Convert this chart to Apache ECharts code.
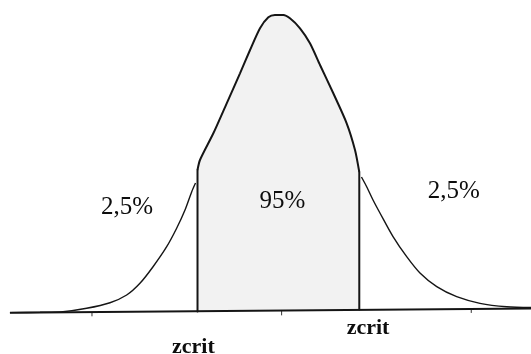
<!DOCTYPE html>
<html>
<head>
<meta charset="utf-8">
<script src="https://cdn.jsdelivr.net/npm/echarts@6/dist/echarts.min.js"></script>
<style>
  html, body { margin: 0; padding: 0; background: #ffffff; }
  #chart { width: 531px; height: 354px; }
</style>
</head>
<body>
<div id="chart"></div>
<script>
// Standard normal curve, z on the x axis, density on the y axis.
// Left tail (below -zcrit): [z, density]
const leftTail = [
  [-2.865, -0.0023], [-2.548, -0.0018], [-2.306, -0.0010], [-2.056, 0.0036],
  [-1.810, 0.0111], [-1.634, 0.0215], [-1.494, 0.0373], [-1.356, 0.0596],
  [-1.212, 0.0866], [-1.107, 0.1114], [-1.019, 0.1360], [-0.948, 0.1607],
  [-0.908, 0.1724]
];
// Right tail (above +zcrit)
const rightTail = [
  [0.842, 0.1805], [0.897, 0.1674], [0.964, 0.1495], [1.037, 0.1320],
  [1.175, 0.1001], [1.319, 0.0731], [1.459, 0.0511], [1.636, 0.0327],
  [1.846, 0.0192], [2.092, 0.0103], [2.374, 0.0057], [2.630, 0.0047]
];
// Top of the central acceptance region (95%), from -zcrit to +zcrit
const centerRegion = [
  [-0.887, 0.1899], [-0.861, 0.2034], [-0.720, 0.2394],
  [-0.579, 0.2798], [-0.439, 0.3202], [-0.333, 0.3516], [-0.228, 0.3809],
  [-0.140, 0.3957], [-0.070, 0.3988], [0.018, 0.3988], [0.088, 0.3943],
  [0.194, 0.3809], [0.299, 0.3607], [0.405, 0.3314], [0.545, 0.2933],
  [0.686, 0.2529], [0.774, 0.2169], [0.819, 0.1872]
];
// Vertical boundaries at the critical values: [z, bottom, top]
const critEdges = [
  [-0.887, -0.0007, 0.1899],
  [0.819, 0.0020, 0.1872]
];
// Horizontal z axis line
const baseline = [[-2.865, -0.0023], [2.630, 0.0033]];
// Tick marks: [z, top, bottom]
const ticks = [
  [-2, -0.0023, -0.0067],
  [0, -0.0001, -0.0054],
  [2, 0.0026, -0.0021]
];
// Area percentages
const areaLabels = [
  { name: '2,5%', value: [-1.631, 0.1401] },
  { name: '95%', value: [0.009, 0.1482] },
  { name: '2,5%', value: [1.815, 0.1616] }
];
// Critical value captions
const critLabels = [
  { name: 'zcrit', value: [-0.931, -0.0486] },
  { name: 'zcrit', value: [0.911, -0.0236] }
];

const ink = '#151515';
const chart = echarts.init(document.getElementById('chart'), null, { renderer: 'canvas' });

const textLabel = {
  show: true,
  position: 'inside',
  formatter: '{b}',
  fontFamily: 'Liberation Serif',
  color: '#0d0d0d',
  opacity: 1,
  align: 'center',
  verticalAlign: 'middle'
};

// Draws a vertical segment at x = value(0) from value(1) to value(2)
function segment(width, color) {
  return function (params, api) {
    const a = api.coord([api.value(0), api.value(1)]);
    const b = api.coord([api.value(0), api.value(2)]);
    return {
      type: 'line',
      shape: { x1: a[0], y1: a[1], x2: b[0], y2: b[1] },
      style: { stroke: color, lineWidth: width, lineCap: 'round' }
    };
  };
}

chart.setOption({
  animation: false,
  backgroundColor: '#ffffff',
  grid: { left: 0, right: 0, top: 0, bottom: 0 },
  xAxis: { type: 'value', min: -2.97, max: 2.63, show: false },
  yAxis: { type: 'value', min: -0.058, max: 0.419, show: false },
  series: [
    {
      type: 'line',
      data: centerRegion,
      symbol: 'none',
      smooth: 0.25,
      lineStyle: { color: ink, width: 2 },
      areaStyle: { color: '#f2f2f2', opacity: 1, origin: 0 },
      z: 2
    },
    {
      type: 'custom',
      data: critEdges,
      renderItem: segment(2, ink),
      z: 3
    },
    {
      type: 'line',
      data: leftTail,
      symbol: 'none',
      smooth: 0.3,
      lineStyle: { color: ink, width: 1.4 },
      z: 3
    },
    {
      type: 'line',
      data: rightTail,
      symbol: 'none',
      smooth: 0.3,
      lineStyle: { color: ink, width: 1.4 },
      z: 3
    },
    {
      type: 'line',
      data: baseline,
      symbol: 'none',
      lineStyle: { color: ink, width: 2 },
      z: 4
    },
    {
      type: 'custom',
      data: ticks,
      renderItem: segment(1, '#333333'),
      z: 4
    },
    {
      type: 'scatter',
      data: areaLabels,
      symbolSize: 0,
      itemStyle: { opacity: 1 },
      label: Object.assign({}, textLabel, { fontSize: 25 }),
      emphasis: { disabled: true },
      z: 5
    },
    {
      type: 'scatter',
      data: critLabels,
      symbolSize: 0,
      itemStyle: { opacity: 1 },
      label: Object.assign({}, textLabel, { fontSize: 22, fontWeight: 'bold' }),
      emphasis: { disabled: true },
      z: 5
    }
  ]
});
</script>
</body>
</html>
